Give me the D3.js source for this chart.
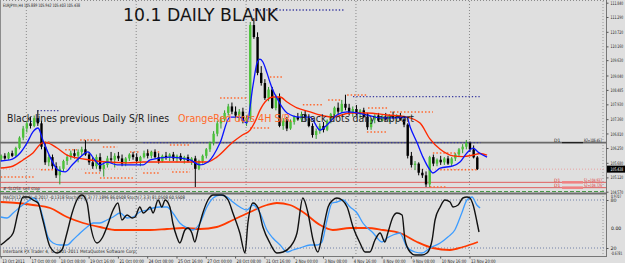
<!DOCTYPE html>
<html><head><meta charset="utf-8">
<script src="https://cdn.jsdelivr.net/npm/d3@7"></script>
<style>
html,body{margin:0;padding:0;background:#dfdfdf;}
svg{display:block;}
text{font-family:"DejaVu Sans",Tahoma,sans-serif;}
</style></head><body>
<svg id="c" width="625" height="263"></svg>
<script>
// ---------- DATA ----------
const opens = [105.85,105.95,105.85,106.05,105.95,106.25,106.65,107.00,107.20,107.10,107.40,107.20,106.30,105.70,105.90,105.55,105.20,105.45,105.75,105.90,106.05,105.95,106.10,106.20,106.00,105.70,105.55,105.90,105.45,105.60,105.85,105.80,105.95,105.85,105.65,105.85,106.00,105.90,105.75,105.90,106.05,105.95,106.10,105.90,105.75,105.95,105.90,106.00,105.85,105.95,105.80,105.90,105.75,105.85,105.45,105.75,105.95,106.20,106.45,106.80,107.20,107.35,107.60,107.85,107.65,107.50,107.65,107.30,107.40,110.98,110.52,109.14,108.75,108.17,108.50,107.79,108.20,107.10,107.30,107.00,107.25,107.45,107.35,107.55,107.40,107.10,106.75,106.90,107.10,106.95,107.30,107.55,107.80,107.65,107.95,107.80,107.60,107.75,107.55,107.70,107.45,107.05,107.35,107.50,107.30,107.45,107.35,107.50,107.40,107.50,107.35,107.15,105.95,105.60,105.65,105.30,105.20,104.85,105.90,105.65,105.80,105.70,105.85,105.65,105.85,106.00,106.20,106.30,106.45,106.20,105.889];
const highs = [106.00,106.05,106.10,106.15,106.30,106.70,107.10,107.30,107.45,107.50,107.70,107.30,106.45,106.00,106.00,105.70,105.55,105.80,106.00,106.15,106.20,106.20,106.30,106.55,106.10,105.90,106.00,106.05,105.70,105.95,106.10,106.05,106.10,106.00,105.90,106.05,106.10,106.05,105.95,106.15,106.20,106.15,106.20,106.05,106.00,106.10,106.05,106.10,106.00,106.05,105.95,106.00,105.90,105.95,105.80,106.00,106.25,106.50,106.90,107.30,107.45,107.70,107.95,108.00,107.85,107.75,107.80,107.50,111.10,111.25,110.70,109.40,108.90,108.60,108.60,108.30,108.35,107.40,107.45,107.35,107.50,107.60,107.65,107.70,107.50,107.20,107.00,107.20,107.25,107.35,107.60,107.85,108.00,108.10,108.30,107.95,107.85,107.90,107.75,107.80,107.60,107.40,107.55,107.60,107.55,107.60,107.55,107.65,107.55,107.60,107.45,107.20,106.10,105.75,105.70,105.45,105.35,105.95,106.00,105.85,105.95,105.90,105.95,105.90,106.05,106.25,106.40,106.56,106.50,106.35,105.942];
const lows = [105.75,105.80,105.80,105.90,105.90,106.20,106.55,106.85,107.00,107.05,107.10,106.20,105.60,105.55,105.45,105.10,104.85,105.35,105.60,105.80,105.85,105.70,105.95,105.95,105.60,105.45,105.45,105.35,105.15,105.50,105.70,105.50,105.75,105.55,105.55,105.75,105.80,105.65,105.55,105.85,105.85,105.85,105.85,105.65,105.70,105.80,105.75,105.75,105.70,105.75,105.65,105.70,105.60,104.75,105.40,105.65,105.85,106.10,106.35,106.70,107.00,107.25,107.50,107.55,107.40,107.30,107.20,107.10,107.30,110.45,109.05,108.65,108.10,108.05,107.75,107.70,107.05,106.95,106.90,106.95,107.15,107.30,107.25,107.30,107.05,106.65,106.60,106.80,106.85,106.90,107.20,107.45,107.55,107.60,107.70,107.50,107.45,107.50,107.40,107.40,106.95,106.95,107.20,107.25,107.25,107.30,107.25,107.35,107.30,107.30,107.05,105.85,105.50,105.40,105.20,105.10,104.75,104.75,105.55,105.55,105.60,105.60,105.60,105.55,105.75,105.90,106.05,106.20,106.10,105.85,105.403];
const closes = [105.95,105.85,106.05,105.95,106.25,106.65,107.00,107.20,107.10,107.40,107.20,106.30,105.70,105.90,105.55,105.20,105.45,105.75,105.90,106.05,105.95,106.10,106.20,106.00,105.70,105.55,105.90,105.45,105.60,105.85,105.80,105.95,105.85,105.65,105.85,106.00,105.90,105.75,105.90,106.05,105.95,106.10,105.90,105.75,105.95,105.90,106.00,105.85,105.95,105.80,105.90,105.75,105.85,105.45,105.75,105.95,106.20,106.45,106.80,107.20,107.35,107.60,107.85,107.65,107.50,107.65,107.30,107.40,110.98,110.52,109.14,108.75,108.17,108.50,107.79,108.20,107.10,107.30,107.00,107.25,107.45,107.35,107.55,107.40,107.10,106.75,106.90,107.10,106.95,107.30,107.55,107.80,107.65,107.95,107.80,107.60,107.75,107.55,107.70,107.45,107.05,107.35,107.50,107.30,107.45,107.35,107.50,107.40,107.50,107.35,107.15,105.95,105.60,105.65,105.30,105.20,104.85,105.90,105.65,105.80,105.70,105.85,105.65,105.85,106.00,106.20,106.30,106.45,106.20,105.889,105.438];

// moving averages [bar, price]
const maFast = [[0,105.75],[2.5,105.79],[5.3,106.06],[7.2,106.45],[8.8,106.87],[10.2,107.02],[11.5,106.56],[13.5,105.90],[15.6,105.41],[17.6,105.33],[19.5,105.60],[21.7,105.90],[23.8,106.10],[25.7,105.79],[27.1,105.60],[29,105.71],[31.8,105.60],[35.3,105.60],[38.9,105.60],[40.8,105.79],[46.2,105.90],[51.7,105.79],[54.4,105.60],[56.6,105.71],[59.9,106.45],[62.6,107.44],[65.3,107.44],[67.2,107.21],[68.9,108.67],[70,109.52],[70.8,109.67],[71.6,109.56],[72.7,109.14],[73.5,108.79],[74.3,108.48],[75.7,108.10],[76.8,107.83],[78.2,107.60],[81.7,107.44],[84.5,107.44],[87.2,106.94],[89.1,107.14],[91.8,107.52],[94.6,107.64],[97.3,107.60],[100,107.52],[103.6,107.41],[107.1,107.41],[110.9,107.44],[111.8,107.06],[113.7,106.45],[115.3,105.90],[117.2,105.41],[118,105.29],[120,105.48],[123.5,105.56],[125.4,105.71],[127.3,106.06],[129,106.25],[130.3,106.10],[132.8,105.90]];
const maSlow = [[0,105.48],[3.4,105.56],[6.1,105.79],[8.8,106.06],[11.5,106.45],[12.6,106.45],[15.4,106.25],[18.1,105.98],[20.8,105.87],[24.4,105.79],[29,105.71],[34.5,105.68],[38.9,105.71],[43.5,105.71],[52.5,105.71],[56.3,105.71],[59,105.90],[63.4,106.48],[66,106.75],[68.1,106.94],[69.4,107.25],[70.8,107.71],[72.7,108.10],[74.3,108.21],[76.3,108.21],[78.2,108.02],[80.9,107.79],[84.5,107.64],[87.2,107.52],[90.7,107.44],[95.4,107.60],[100,107.60],[105.5,107.52],[110.9,107.44],[114.5,107.21],[117.2,106.60],[120,106.20],[123.5,105.95],[126.2,105.92],[129,105.98],[130.9,106.04],[132.8,105.98]];

// oscillator panel [bar, value]
const stochMain = [[0,23.75],[1.7,30],[3.4,38.75],[4.7,63.75],[6.1,83.75],[7.5,83.75],[8.8,80],[10.2,76.25],[11.5,55],[13.5,21.25],[15.4,13.75],[16.7,17.5],[18.1,38.75],[19.5,63.75],[20.8,80],[22.2,86.25],[23.6,76.25],[24.4,51.25],[26.3,26.25],[27.7,32.5],[29,46.25],[30.7,67.5],[32,76.25],[33.1,55],[34.5,61.25],[35.9,57.5],[36.7,58.75],[38,71.25],[38.9,63.75],[40,67.5],[40.8,71.25],[41.6,63.75],[43,80],[44,71.25],[44.9,80],[46.2,71.25],[47,51.25],[48.1,33.75],[48.9,26.25],[50.3,42.5],[51.1,45],[52.2,38.75],[53,27.5],[53.9,42.5],[55.2,63.75],[56.6,80],[58,86.25],[60.4,86.25],[62.1,80],[63.4,63.75],[65.3,38.75],[66.7,13.75],[67.5,51.25],[68.9,76.25],[70.3,70],[71.6,46.25],[73.5,26.25],[75.4,13.75],[77.1,15],[79,21.25],[80.9,38.75],[82.5,82.5],[83.9,63.75],[85.3,30],[86.6,15],[88,42.5],[89.4,71.25],[90.7,80],[91.8,82.5],[93.2,80],[94.6,71.25],[96.2,46.25],[98.1,26.25],[99.5,15],[100.8,15],[102.2,30],[103.6,38.75],[104.9,27.5],[105.7,38.75],[107.1,58.75],[108.2,63.75],[109.6,61.25],[110.4,30],[111.8,15],[113.1,11.25],[115,11.25],[116.4,13.75],[117.8,30],[118.6,55],[120,71.25],[121.3,80],[122.7,77.5],[123.5,71.25],[124.9,73.75],[126.2,82.5],[127.3,83.75],[128.1,82.5],[129,73.75],[130.1,51.25],[130.6,40]];
const stochSignal = [[0,58.75],[1.7,57.5],[3.4,63.75],[5.3,71.25],[7.2,77.5],[8.8,82.5],[10.2,77.5],[11.5,58.75],[12.9,33.75],[14.3,26.25],[16.2,23.75],[18.1,23.75],[19.7,30],[21.7,38.75],[23.6,46.25],[25.2,51.25],[27.1,51.25],[29,55],[30.7,58.75],[32.6,63.75],[34.5,57.5],[36.1,58.75],[38,65],[40,67.5],[41.6,70],[43.5,71.25],[45.4,71.25],[47,63.75],[48.9,51.25],[50.9,45],[52.5,42.5],[54.4,51.25],[56.3,71.25],[58,82.5],[59.9,86.25],[61.8,83.75],[63.4,77.5],[65.3,71.25],[67.2,67.5],[68.9,73.75],[70.8,63.75],[72.7,42.5],[74.3,32.5],[76.3,23.75],[78.2,15],[79.8,17.5],[81.7,20],[84.5,23.75],[86.4,23.75],[87.7,27.5],[89.1,55],[90.5,76.25],[91.8,77.5],[93.5,80],[95.4,71.25],[97.3,63.75],[98.9,51.25],[101.7,38.75],[104.1,27.5],[105.5,32.5],[107.1,36.25],[109,38.75],[110.9,21.25],[113.1,15],[115,13.75],[117.2,20],[120,26.25],[122.1,33.75],[124,42.5],[125.9,63.75],[127.3,80],[128.7,83.75],[130,73.75],[130.9,70]];
const macdLine = [[0,77.5],[4.4,76.25],[8.8,73.75],[13.5,70],[18.1,58.75],[22.5,51.25],[27.1,46.25],[31.8,42.5],[36.1,42.5],[40.8,42.5],[45.4,43.75],[49.8,45],[54.4,43.75],[59,46.25],[63.4,55],[68.1,65],[72.7,73.75],[75.4,76.25],[79,73.75],[82.5,65],[87.2,48.75],[90.7,42.5],[95.4,45],[100,45],[104.4,42.5],[109,38.75],[113.7,27.5],[118,20],[122.7,17.5],[126.2,21.25],[130.3,27.5]];

// S/R levels
const srOrange = [[0,9,105.14],[11,13.5,106.48],[11,14.3,105.41],[17.6,20.8,106.18],[21.7,27.1,106.56],[23,27.1,105.29],[27.9,31.8,106.29],[27.1,36.1,105.10],[35.3,38,106.10],[40,43.5,106.10],[38.9,43.5,105.29],[46.2,51.7,106.37],[46.8,51.7,105.33],[59.9,67.2,108.17],[68.1,73.5,107.02],[73.5,77.1,108.98],[82.5,88,107.91],[89.4,93.2,108.10],[94.6,100,108.29],[100.3,105.8,107.79],[106.3,118,107.64],[100,105.5,106.87],[118,125.4,106.06],[120,130,105.41],[117.2,121.9,104.75]];
const srDaily = [[68.9,94,111.56],[96.2,131,108.23],[10,16,107.69],[39,131,106.455]];
const dailyLevels = [{name:"R2",v:106.455,label:"R2=106.457"},{name:"S1",v:104.93,label:"S1=104.937"},{name:"S2",v:104.725,label:"S2=104.726"}];
const priceTicks = [111.840,111.290,110.720,110.160,109.630,109.040,108.485,107.930,107.360,106.810,106.250,105.680,105.120,104.570];
const lastPrice = 105.438;
const timeIdx = [0,8,16,24,32,40,48,56,64,72,80,88,96,104,112,120,128];
const timeLabels = ["13 Oct 2011","17 Oct 00:00","18 Oct 08:00","19 Oct 16:00","21 Oct 00:00","24 Oct 08:00","25 Oct 16:00","27 Oct 00:00","28 Oct 08:00","31 Oct 16:00","2 Nov 00:00","3 Nov 08:00","4 Nov 16:00","8 Nov 00:00","9 Nov 08:00","10 Nov 16:00","13 Nov 20:00"];
const gridBars = [7,37,67,97,128];

// ---------- DRAW ----------
const svg = d3.select('#c');
const W=625,H=263;
const SX=0.64; // horizontal squeeze of the small right-axis labels
svg.append('rect').attr('width',W).attr('height',H).attr('fill','#dfdfdf');

const x = d3.scaleLinear().domain([0,130]).range([0.7,476.8]);
const y = d3.scaleLinear().domain([104.57,111.84]).range([191.7,2.7]);
const yi = d3.scaleLinear().domain([20,80]).range([248,200]);

function fit(sel, perChar){
  sel.each(function(){
    const t=d3.select(this); const s=t.text();
    t.attr('textLength', s.length*perChar).attr('lengthAdjust','spacingAndGlyphs');
  });
}
function smallText(px,py,str,size,fill){
  return svg.append('text').attr('transform',`translate(${px},${py}) scale(${SX},1)`)
    .attr('font-size',size).attr('fill',fill).text(str);
}

// frames
svg.append('line').attr('x1',0).attr('x2',607).attr('y1',0.5).attr('y2',0.5).attr('stroke','#8c8c8c').attr('stroke-dasharray','1,2');
svg.append('line').attr('x1',0.5).attr('x2',0.5).attr('y1',0).attr('y2',256).attr('stroke','#8c8c8c');
svg.append('line').attr('x1',606.5).attr('x2',606.5).attr('y1',0).attr('y2',257).attr('stroke','#777');
svg.append('line').attr('x1',603).attr('x2',603).attr('y1',1).attr('y2',256).attr('stroke','#999').attr('stroke-dasharray','1,2');
svg.append('line').attr('x1',0).attr('x2',607).attr('y1',193.5).attr('y2',193.5).attr('stroke','#707070').attr('stroke-width',2);
svg.append('line').attr('x1',0).attr('x2',607).attr('y1',256.5).attr('y2',256.5).attr('stroke','#777');

// vertical grid
svg.selectAll('.vg').data(gridBars).enter().append('line')
  .attr('x1',d=>x(d)).attr('x2',d=>x(d)).attr('y1',1).attr('y2',256)
  .attr('stroke','#8a8a8a').attr('stroke-dasharray','1,2');

// indicator level lines
[80,20].forEach(v=>{
  svg.append('line').attr('x1',0).attr('x2',606).attr('y1',yi(v)).attr('y2',yi(v))
   .attr('stroke','#7080a8').attr('stroke-dasharray','1,2');
});

// bid line
svg.append('line').attr('x1',0).attr('x2',606).attr('y1',y(lastPrice)).attr('y2',y(lastPrice))
  .attr('stroke','#e8a0a0').attr('stroke-dasharray','1,2');

// green dashed bottom line
svg.append('line').attr('x1',0).attr('x2',606).attr('y1',191.5).attr('y2',191.5)
  .attr('stroke','#4a9a4a').attr('stroke-dasharray','4,2');

// daily S/R black line (solid)
svg.append('line').attr('x1',0).attr('x2',606).attr('y1',y(106.455)).attr('y2',y(106.455))
  .attr('stroke','#6a6a6a').attr('stroke-width',1.8);
// S1 S2 red lines
[104.93,104.725].forEach(v=>{
  svg.append('line').attr('x1',0).attr('x2',606).attr('y1',y(v)).attr('y2',y(v))
   .attr('stroke','#e06060').attr('stroke-width',1);
});

// orange S/R dots
svg.selectAll('.sro').data(srOrange).enter().append('line')
  .attr('x1',d=>x(d[0])).attr('x2',d=>x(d[1])).attr('y1',d=>y(d[2])).attr('y2',d=>y(d[2]))
  .attr('stroke','#ff6a30').attr('stroke-width',1.5).attr('stroke-dasharray','1.5,2');
// daily dots
svg.selectAll('.srd').data(srDaily).enter().append('line')
  .attr('x1',d=>x(d[0])).attr('x2',d=>x(d[1])).attr('y1',d=>y(d[2])).attr('y2',d=>y(d[2]))
  .attr('stroke','#3a3aa0').attr('stroke-width',1.3).attr('stroke-dasharray','1.3,2');

// candles
const bars = closes.map((c,i)=>({i,o:opens[i],h:highs[i],l:lows[i],c}));
svg.selectAll('.wick').data(bars).enter().append('line')
  .attr('x1',d=>x(d.i)+0.5).attr('x2',d=>x(d.i)+0.5)
  .attr('y1',d=>y(d.h)).attr('y2',d=>y(d.l))
  .attr('stroke',d=>d.c>=d.o?'#2f9a2f':'#000').attr('stroke-width',1);
svg.selectAll('.body').data(bars).enter().append('rect')
  .attr('x',d=>x(d.i)-0.7).attr('width',2.4)
  .attr('y',d=>y(Math.max(d.o,d.c)))
  .attr('height',d=>Math.max(1,Math.abs(y(d.o)-y(d.c))))
  .attr('fill',d=>d.c>=d.o?'#4cc23a':'#000');

// MAs
const lineMain = d3.line().x(d=>x(d[0])).y(d=>y(d[1])).curve(d3.curveMonotoneX);
svg.append('path').attr('d',lineMain(maSlow)).attr('fill','none').attr('stroke','#ff2a00').attr('stroke-width',1.4);
svg.append('path').attr('d',lineMain(maFast)).attr('fill','none').attr('stroke','#0a14ff').attr('stroke-width',1.3);

// oscillator
const lineInd = d3.line().x(d=>x(d[0])).y(d=>yi(d[1])).curve(d3.curveMonotoneX);
svg.append('path').attr('d',lineInd(macdLine)).attr('fill','none').attr('stroke','#ff3a00').attr('stroke-width',1.8);
svg.append('path').attr('d',lineInd(stochSignal)).attr('fill','none').attr('stroke','#3c9cff').attr('stroke-width',1.3);
svg.append('path').attr('d',lineInd(stochMain)).attr('fill','none').attr('stroke','#111').attr('stroke-width',1.4);

// daily level labels right side
dailyLevels.forEach(d=>{
  const yy=y(d.v);
  const col = d.name==='R2' ? '#111' : '#e03030';
  svg.append('line').attr('x1',562).attr('x2',583).attr('y1',yy).attr('y2',yy).attr('stroke',d.name==='R2'?'#111':'#f08080').attr('stroke-width',d.name==='R2'?1:2.5);
  svg.append('text').attr('x',554).attr('y',yy-0.8).attr('font-size',4.6).attr('fill',col).text('D1');
  svg.append('text').attr('x',584).attr('y',yy-0.8).attr('font-size',4.6).attr('fill',col)
    .attr('textLength',18).attr('lengthAdjust','spacingAndGlyphs').text(d.label);
});

// price axis
const ax = d3.axisRight(y).tickValues(priceTicks).tickFormat(d3.format('.3f')).tickSize(2).tickPadding(2);
const gAx = svg.append('g').attr('transform','translate(606.5,0)').call(ax);
gAx.select('.domain').remove();
gAx.selectAll('text').attr('font-size',4.8).attr('fill','#222').attr('font-family','DejaVu Sans')
  .attr('x',4/SX).attr('transform',`scale(${SX},1)`);
gAx.selectAll('line').attr('stroke','#555');

// current price box
svg.append('rect').attr('x',607).attr('y',y(lastPrice)-3.5).attr('width',18).attr('height',7).attr('fill','#000');
smallText(610.5, y(lastPrice)+1.8, d3.format('.3f')(lastPrice), 4.8, '#fff');

// indicator axis labels
const indAx = d3.axisRight(yi).tickValues([80,20]).tickFormat(d3.format('d')).tickSize(2).tickPadding(2);
const gI = svg.append('g').attr('transform','translate(606.5,0)').call(indAx);
gI.select('.domain').remove();
gI.selectAll('text').attr('font-size',4.8).attr('fill','#222');
gI.selectAll('line').attr('stroke','#555');
smallText(611, 197.6, '0.9707', 4.6, '#222');
svg.append('text').attr('x',611).attr('y',229.5).attr('font-size',4.6).attr('fill','#222').text('0.00');
smallText(611, 254.8, '-0.6781', 4.6, '#222');

// time axis
const tAx = d3.axisBottom(x).tickValues(timeIdx).tickFormat((d,i)=>timeLabels[i]).tickSize(2).tickPadding(1);
const gT = svg.append('g').attr('transform','translate(0,256.5)').call(tAx);
gT.select('.domain').remove();
gT.selectAll('text').attr('font-size',4.8).attr('fill','#222').attr('text-anchor','start').attr('dx',1);
fit(gT.selectAll('text'),2.05);
gT.selectAll('line').attr('stroke','#555');

// texts
svg.append('text').attr('x',3).attr('y',6.5).attr('font-size',4.6).attr('fill','#222').attr('textLength',77).attr('lengthAdjust','spacingAndGlyphs').text('EURJPYm,H4  105.889 105.942 105.403 105.438');
svg.append('text').attr('x',123).attr('y',20.5).attr('font-size',17).attr('fill','#151515').attr('textLength',155).attr('lengthAdjust','spacingAndGlyphs').text('10.1 DAILY BLANK');
svg.append('text').attr('x',7).attr('y',122).attr('font-size',10.5).attr('fill','#222').attr('textLength',162).attr('lengthAdjust','spacingAndGlyphs').text('Black lines previous Daily S/R lines');
svg.append('text').attr('x',178).attr('y',122).attr('font-size',10.5).attr('fill','#ff6a2a').attr('textLength',115).attr('lengthAdjust','spacingAndGlyphs').text('OrangeRed dots 4H S/R.');
svg.append('text').attr('x',301).attr('y',122).attr('font-size',10.5).attr('fill','#222').attr('textLength',113).attr('lengthAdjust','spacingAndGlyphs').text('Black dots daily support');
svg.append('text').attr('x',3).attr('y',189.5).attr('font-size',4.3).attr('fill','#333').attr('textLength',37).attr('lengthAdjust','spacingAndGlyphs').text('#-SLOSE sell stop');
svg.append('text').attr('x',3).attr('y',198.5).attr('font-size',4.6).attr('fill','#222').attr('textLength',182).attr('lengthAdjust','spacingAndGlyphs').text('MACD(12,26,9) -0.2017 -0.1318  Stoch(10,3,3) 77.1896 86.0508  Stoch(7,3,3) 81.0508 60.5508');
svg.append('text').attr('x',3).attr('y',252.5).attr('font-size',4.6).attr('fill','#222').attr('textLength',134).attr('lengthAdjust','spacingAndGlyphs').text('Interbank FX Trader 4, © 2001-2011 MetaQuotes Software Corp.');
</script></body></html>
